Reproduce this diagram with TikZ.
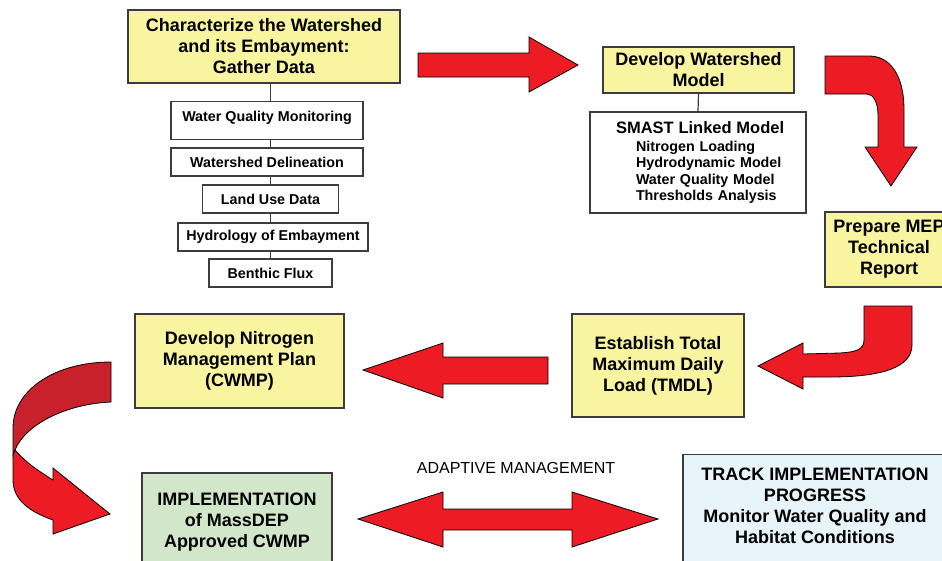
\documentclass[tikz,border=0pt]{standalone}
\usepackage{fontspec}
\setmainfont{Liberation Sans}
\definecolor{boxline}{HTML}{3C3C3C}
\definecolor{boxyellow}{HTML}{F8F4A0}
\definecolor{boxgreen}{HTML}{D2E7CA}
\definecolor{boxblue}{HTML}{E7F4F9}
\definecolor{arrowred}{HTML}{ED1C24}
\definecolor{arrowdark}{HTML}{C9212B}

\begin{document}
\begin{tikzpicture}[x=1pt, y=-1pt,
  ybox/.style={draw=boxline, line width=1.2pt, fill=boxyellow, align=center,
    inner sep=0pt, font=\fontsize{18}{21}\selectfont\bfseries},
  subbox/.style={draw=boxline, line width=1.2pt, fill=white, inner sep=0pt,
    font=\fontsize{14.3}{16.3}\selectfont\bfseries},
  link/.style={draw=boxline, line width=1.2pt},
  redarrow/.style={fill=arrowred, draw=black, line width=0.8pt, line join=miter}]
\useasboundingbox (0,0) rectangle (942,560);
\clip (0,0) rectangle (942,560);
% data gathering
\node[ybox, minimum width=272pt, minimum height=73pt] (char) at (264,46.5) {Characterize the Watershed\\and its Embayment:\\Gather Data};
\node[subbox, minimum width=192pt, anchor=north, inner ysep=4pt, text height=15.5pt, text depth=14.5pt] (wqm) at (267,101) {Water Quality Monitoring};
\node[subbox, minimum width=192pt, minimum height=28pt] (wsd) at (267,162) {Watershed Delineation};
\node[subbox, minimum width=136pt, minimum height=28pt] (lud) at (270.5,199) {Land Use Data};
\node[subbox, minimum width=190pt, minimum height=28pt] (hyd) at (273,237) {Hydrology of Embayment};
\node[subbox, minimum width=123pt, minimum height=28pt] (ben) at (270.5,273) {Benthic Flux};
\draw[link] (char.south -| lud.north) -- (wqm.north -| lud.north);
\draw[link] (wqm.south -| lud.north) -- (wsd.north -| lud.north);
\draw[link] (wsd.south -| lud.north) -- (lud.north);
\draw[link] (lud.south) -- (hyd.north -| lud.south);
\draw[link] (hyd.south -| lud.south) -- (ben.north -| lud.south);
% model
\node[ybox, minimum width=191pt, minimum height=46pt] (devmodel) at (698.5,70) {Develop Watershed\\Model};
\node[subbox, minimum width=216pt, minimum height=101pt, text width=216pt, align=left, inner xsep=0pt] (smast) at (698,162.5) {\hspace*{26pt}{\fontsize{16.5}{18}\selectfont SMAST Linked Model}\\[1.7pt]
\hspace*{46pt}Nitrogen Loading\\
\hspace*{46pt}Hydrodynamic Model\\
\hspace*{46pt}Water Quality Model\\
\hspace*{46pt}Thresholds Analysis};
\draw[link] (devmodel.south) -- (smast.north);
% report, TMDL, plan
\node[ybox, minimum width=128pt, minimum height=75pt] (mep) at (889,249.5) {Prepare MEP\\Technical\\Report};
\node[ybox, minimum width=172pt, minimum height=103pt] (tmdl) at (658,365.5) {Establish Total\\Maximum Daily\\Load (TMDL)};
\node[ybox, minimum width=209pt, minimum height=94pt] (cwmp) at (239.5,361) {Develop Nitrogen\\Management Plan\\(CWMP)};
\node[ybox, fill=boxgreen, minimum width=190pt, minimum height=99pt] (impl) at (237,522.5) {IMPLEMENTATION\\of MassDEP\\Approved CWMP};
\node[ybox, fill=boxblue, minimum width=264pt, anchor=north, inner ysep=13pt, text depth=20pt] (track) at (815,454) {TRACK IMPLEMENTATION\\PROGRESS\\Monitor Water Quality and\\Habitat Conditions};
\node[font=\fontsize{16}{18}\selectfont] (adapt) at (516,468) {ADAPTIVE MANAGEMENT};
% block arrows
\draw[redarrow] (418,53) -- (529,53) -- (529,37) -- (578,65) -- (529,92) -- (529,77) -- (418,77) -- cycle;
\draw[redarrow] (825,56) -- (869,56) .. controls (890,56) and (904,75) .. (904,110) -- (904,147) -- (917,147) -- (891,186) -- (865,147) -- (878,147) -- (878,115) .. controls (878,102) and (873,94) .. (867,94) -- (825,94) -- cycle;
\draw[redarrow] (864,306) -- (912,306) -- (912,345) .. controls (912,368) and (880,377) .. (830,377) -- (803,377) -- (803,389) -- (758,366) -- (803,343) -- (803,354) -- (840,353) .. controls (855,352) and (864,350) .. (864,340) -- cycle;
\draw[redarrow] (363,370) -- (443,343) -- (443,357) -- (548,357) -- (548,384) -- (443,384) -- (443,398) -- cycle;
\draw[redarrow, fill=arrowdark] (111,362) -- (111,402) .. controls (65,404) and (25,425) .. (15,450) -- (13,455) -- (13,428) .. controls (13,390) and (55,362) .. (111,362) -- cycle;
\draw[redarrow] (15,450) .. controls (25,462) and (40,472) .. (53,480) -- (53,468) -- (110,514) -- (53,534) -- (53,520) .. controls (30,512) and (13,500) .. (13,480) -- (13,455) -- cycle;
\draw[redarrow] (358,519) -- (443,492) -- (443,509) -- (572,509) -- (572,492) -- (658,519) -- (572,547) -- (572,530) -- (443,530) -- (443,547) -- cycle;
\end{tikzpicture}
\end{document}
